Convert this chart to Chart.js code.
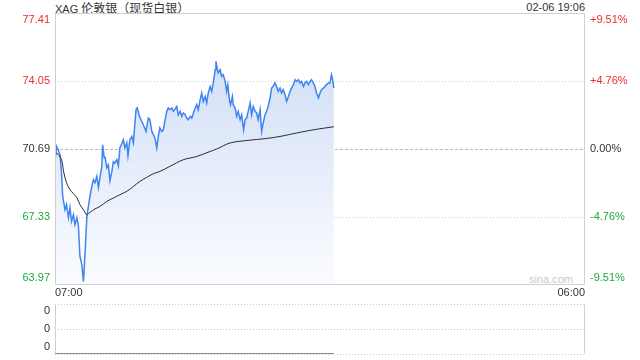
<!DOCTYPE html>
<html><head><meta charset="utf-8">
<script src="https://cdn.jsdelivr.net/npm/chart.js@4"></script>
<style>
html,body{margin:0;padding:0;background:#fff}
body{width:640px;height:360px;overflow:hidden;position:relative;font-family:"Liberation Sans",Arial,"Noto Sans CJK SC",sans-serif}
.t{position:absolute;font-size:11px;line-height:13px;color:#333;white-space:nowrap}
.cjk{font-size:12px;font-family:"Noto Sans CJK SC",sans-serif}
#main{position:absolute;left:0;top:0}
#vol{position:absolute;left:0;top:290px}
</style></head><body>
<div class="t" style="left:55px;top:1px">XAG <span class="cjk">伦敦银（现货白银）</span></div>
<div class="t" style="right:55px;top:1px">02-06 19:06</div>
<div class="t" style="right:67px;top:273px;color:#c8c8c8">sina.com</div>
<canvas id="vol" width="640" height="78"></canvas>
<canvas id="main" width="640" height="300"></canvas>
<script>
// ---- data ----
const BASE_PRICE = 70.69;
const PRICE_TICKS = [63.97, 67.33, 70.69, 74.05, 77.41];
const PCT_LABELS = ['-9.51%', '-4.76%', '0.00%', '+4.76%', '+9.51%'];
const TIME_TICKS = [0, 1380];            // minutes after 07:00
const TIME_LABELS = ['07:00', '06:00'];
const PRICE_T = [0,4,8,13,17,20,26,30,35,39,43,48,52,57,61,65,70,74,76,80,83,87,91,96,100,104,109,113,117,122,124,128,130,135,139,143,148,152,156,161,165,169,174,178,182,187,190,195,200,204,211,214,220,226,230,237,243,247,252,256,260,265,269,273,278,282,286,291,295,299,304,308,317,321,326,330,334,339,343,347,352,356,365,369,373,378,382,386,391,395,399,404,408,412,417,419,423,425,430,434,438,443,447,450,454,457,462,464,469,473,477,482,486,491,495,499,503,508,512,516,521,525,529,534,538,543,547,551,555,560,564,568,573,577,581,586,590,594,599,603,608,612,616,621,625,629,634,638,642,647,651,655,660,664,668,673,677,681,686,690,694,699,703,707,712,716,720,723,726];
const PRICE = [70.08,70.82,70.66,70.41,69.52,68.35,67.69,67.94,67.30,67.79,67.11,67.44,66.95,67.30,66.87,65.38,64.97,64.15,64.73,66.21,67.36,67.85,68.35,68.84,69.17,69.02,69.34,68.78,69.27,69.83,70.90,70.26,70.32,69.77,69.91,69.12,69.57,70.06,70.00,70.16,69.86,70.75,70.95,71.15,70.75,71.00,70.36,71.15,71.31,71.00,72.63,72.72,72.30,72.05,71.89,71.56,72.22,72.14,71.56,71.40,71.25,70.74,71.31,71.73,71.56,71.64,72.05,72.55,72.72,72.63,72.72,72.55,72.79,72.38,72.55,72.30,72.47,72.38,72.22,72.14,72.30,72.22,72.72,72.88,72.63,73.13,73.46,73.04,73.29,72.96,73.46,73.78,73.54,73.95,74.61,75.02,74.61,74.45,74.61,74.28,74.36,74.03,73.54,73.87,73.13,72.88,73.29,72.88,72.72,72.30,72.55,72.14,72.38,71.64,72.14,72.22,72.55,72.96,72.38,72.79,72.55,72.47,72.14,72.63,71.56,72.05,72.38,72.55,72.79,73.21,73.70,73.78,73.95,73.78,73.54,73.70,73.46,73.62,73.37,73.04,73.29,73.54,73.70,73.87,74.11,74.03,74.11,73.95,74.03,73.78,73.95,74.03,73.87,74.03,74.11,73.95,73.78,73.46,73.21,73.46,73.62,73.70,73.78,73.87,73.95,73.95,74.36,74.11,73.70];
const AVG_T = [0,9,17,23,30,39,48,57,65,74,83,91,104,117,135,152,169,187,204,221,239,256,273,299,334,369,404,421,456,499,551,586,629,673,726];
const AVG = [70.52,70.41,70.16,69.52,69.02,68.68,68.48,68.28,67.94,67.69,67.44,67.56,67.73,67.85,68.10,68.27,68.43,68.60,68.84,69.09,69.29,69.47,69.58,69.83,70.16,70.32,70.57,70.69,70.99,71.11,71.21,71.31,71.48,71.64,71.79];
const VOL_TICKS = [0, 0.5, 1];
const VOL_LABELS = ['0', '0', '0'];
const VOL_T = [0, 726];
const VOL = [0, 0];

// ---- styling helpers ----
Chart.defaults.font.family = '"Liberation Sans", Arial, sans-serif';
Chart.defaults.font.size = 11;
const UP = '#f22a2a', DOWN = '#1ea83c', FLAT = '#333';
function tickColor(ctx) {
  const v = PRICE_TICKS[ctx.index];
  if (v === undefined) return FLAT;
  return v > BASE_PRICE ? UP : (v < BASE_PRICE ? DOWN : FLAT);
}
function edgeLabel(label, index, count) {
  if (index === count - 1) return ['', label];
  if (index === 0) return [label, ''];
  return label;
}
function fitY(s) { s.width = 55; s.paddingTop = 0; s.paddingBottom = 0; }
const boxPlugin = {
  id: 'box',
  afterDraw(chart, args, opts) {
    const {ctx, chartArea: a} = chart;
    ctx.save();
    ctx.strokeStyle = '#cfcfcf';
    ctx.lineWidth = 1;
    ctx.beginPath();
    const l = Math.round(a.left) + 0.5, r = Math.round(a.right) - 0.5;
    const t = Math.round(a.top) + 0.5, b = Math.round(a.bottom) - 0.5;
    if (opts.full) {
      ctx.rect(l, t, r - l, b - t);
    } else {
      ctx.moveTo(l, t); ctx.lineTo(l, b);
      ctx.moveTo(r, t); ctx.lineTo(r, b);
    }
    ctx.stroke();
    ctx.restore();
  }
};

const fillGrad = (c) => {
  const {chart} = c;
  const a = chart.chartArea;
  if (!a) return 'rgba(210,225,248,0.6)';
  const g = chart.ctx.createLinearGradient(0, a.top, 0, a.bottom);
  g.addColorStop(0, '#c9d9f5');
  g.addColorStop(1, '#fbfcff');
  return g;
};

new Chart(document.getElementById('main'), {
  type: 'line',
  data: {
    datasets: [
      {
        data: PRICE_T.map((t, i) => ({x: t, y: PRICE[i]})),
        borderColor: '#3f84f0', borderWidth: 1.5, pointRadius: 0, tension: 0,
        fill: 'start', backgroundColor: fillGrad, yAxisID: 'y', order: 1
      },
      {
        data: AVG_T.map((t, i) => ({x: t, y: AVG[i]})),
        borderColor: '#2b2b2b', borderWidth: 1, pointRadius: 0, tension: 0.3,
        fill: false, yAxisID: 'y', order: 0
      }
    ]
  },
  options: {
    responsive: false, animation: false,
    layout: {padding: {top: 13, left: 0, right: 0, bottom: 0}},
    plugins: {legend: {display: false}, tooltip: {enabled: false}, box: {full: true}},
    scales: {
      x: {
        type: 'linear', min: TIME_TICKS[0], max: TIME_TICKS[TIME_TICKS.length - 1],
        afterBuildTicks: s => { s.ticks = TIME_TICKS.map(v => ({value: v})); },
        afterFit: s => { s.height = 15; s.paddingLeft = 0; s.paddingRight = 0; },
        grid: {display: false, drawTicks: false}, border: {display: false},
        ticks: {callback: (v, i) => TIME_LABELS[i], align: 'inner', autoSkip: false, maxRotation: 0, color: '#333', padding: 1}
      },
      y: {
        position: 'left', min: PRICE_TICKS[0], max: PRICE_TICKS[PRICE_TICKS.length - 1],
        afterBuildTicks: s => { s.ticks = PRICE_TICKS.map(v => ({value: v})); },
        afterFit: fitY,
        grid: {
          drawTicks: false,
          color: c => (c.index === 0 || c.index === PRICE_TICKS.length - 1) ? 'rgba(0,0,0,0)' : (PRICE_TICKS[c.index] === BASE_PRICE ? '#b8b8b8' : '#cccccc'),
          lineWidth: 1
        },
        border: {display: false, dash: c => (PRICE_TICKS[c.index] === BASE_PRICE ? [3, 2] : [1, 2])},
        ticks: {
          autoSkip: false, padding: 5, color: tickColor,
          callback: (v, i, arr) => edgeLabel(v.toFixed(2), i, arr.length)
        }
      },
      y2: {
        position: 'right', min: PRICE_TICKS[0], max: PRICE_TICKS[PRICE_TICKS.length - 1],
        afterBuildTicks: s => { s.ticks = PRICE_TICKS.map(v => ({value: v})); },
        afterFit: fitY,
        grid: {drawOnChartArea: false, drawTicks: false}, border: {display: false},
        ticks: {
          autoSkip: false, padding: 5, color: tickColor,
          callback: (v, i, arr) => edgeLabel(PCT_LABELS[i], i, arr.length)
        }
      }
    }
  },
  plugins: [boxPlugin]
});

new Chart(document.getElementById('vol'), {
  type: 'line',
  data: {
    datasets: [{
      data: VOL_T.map((t, i) => ({x: t, y: VOL[i]})),
      borderColor: '#666', borderWidth: 1.5, pointRadius: 0, fill: false
    }]
  },
  options: {
    responsive: false, animation: false,
    layout: {padding: {top: 14, bottom: 14, left: 0, right: 0}},
    plugins: {legend: {display: false}, tooltip: {enabled: false}, box: {full: false}},
    scales: {
      x: {type: 'linear', min: TIME_TICKS[0], max: TIME_TICKS[TIME_TICKS.length - 1], display: false},
      y: {
        position: 'left', min: VOL_TICKS[0], max: VOL_TICKS[VOL_TICKS.length - 1],
        afterBuildTicks: s => { s.ticks = VOL_TICKS.map(v => ({value: v})); },
        afterFit: fitY,
        grid: {drawTicks: false, color: '#c8c8c8', lineWidth: 1},
        border: {display: false, dash: [1, 2]},
        ticks: {autoSkip: false, padding: 5, color: '#333', callback: (v, i, arr) => edgeLabel(VOL_LABELS[i], i, arr.length)}
      },
      yr: {
        position: 'right', min: 0, max: 1, afterFit: fitY,
        grid: {drawOnChartArea: false, drawTicks: false}, border: {display: false},
        ticks: {display: false}
      }
    }
  },
  plugins: [boxPlugin]
});
</script>
</body></html>
